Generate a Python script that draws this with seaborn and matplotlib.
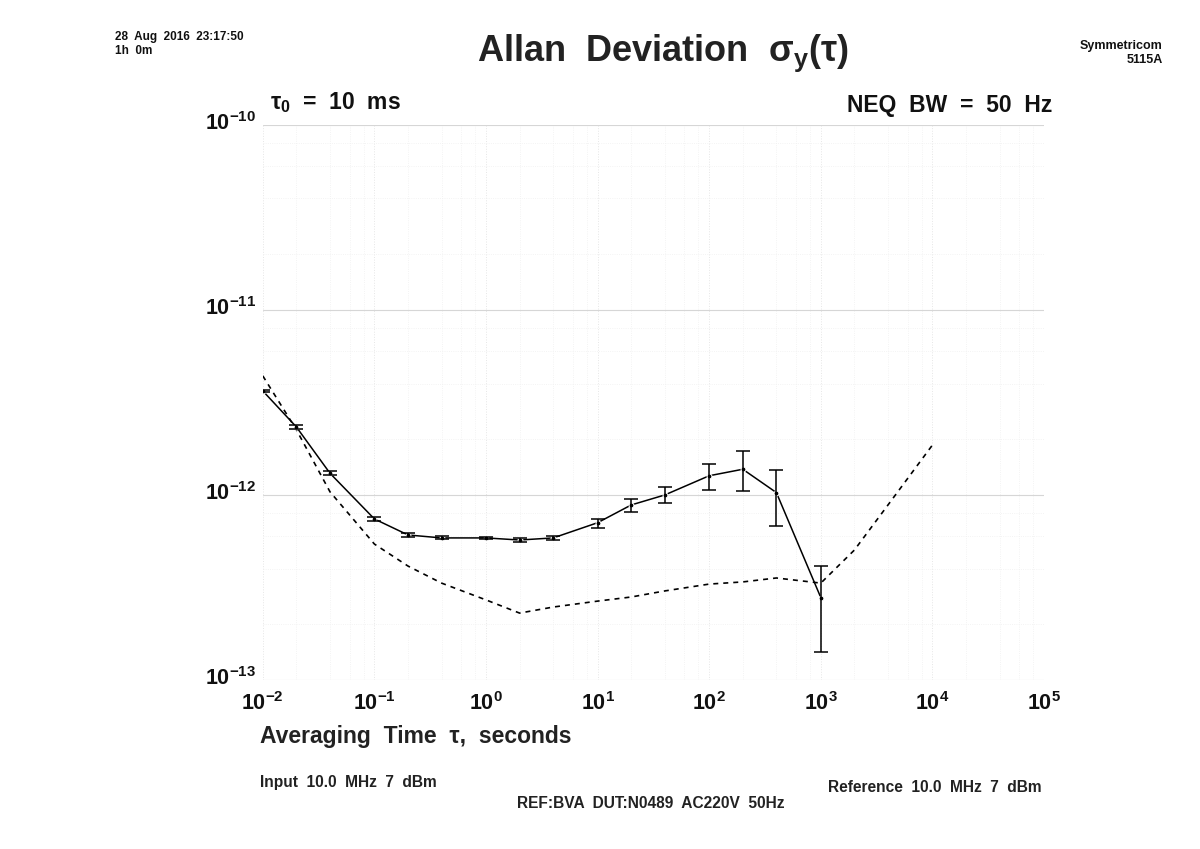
import numpy as np
import pandas as pd
import seaborn as sns
import matplotlib
matplotlib.use("Agg")
import matplotlib.pyplot as plt
import matplotlib.transforms as mtransforms
from matplotlib.ticker import LogLocator, FixedLocator, NullFormatter

# ---- data ----
tau = [0.01, 0.02, 0.04, 0.1, 0.2, 0.4, 1, 2, 4, 10, 20, 40, 100, 200, 400, 1000]
adev = [3.65e-12, 2.33e-12, 1.31e-12, 7.42e-13, 6.08e-13, 5.86e-13, 5.86e-13,
        5.71e-13, 5.86e-13, 7.08e-13, 8.83e-13, 1.0e-12, 1.27e-12, 1.377e-12,
        1.03e-12, 2.79e-13]
adev_lo = [3.60e-12, 2.27e-12, 1.28e-12, 7.22e-13, 5.94e-13, 5.75e-13, 5.76e-13,
           5.58e-13, 5.72e-13, 6.63e-13, 8.09e-13, 9.05e-13, 1.06e-12, 1.05e-12,
           6.8e-13, 1.42e-13]
adev_hi = [3.70e-12, 2.39e-12, 1.34e-12, 7.62e-13, 6.22e-13, 5.97e-13, 5.96e-13,
           5.84e-13, 6.00e-13, 7.42e-13, 9.55e-13, 1.105e-12, 1.476e-12, 1.73e-12,
           1.37e-12, 4.13e-13]

tau_ref = [0.01, 0.02, 0.04, 0.1, 0.2, 0.4, 1, 2, 4, 10, 20, 40, 100, 200, 400,
           1000, 2000, 4000, 10000]
ref_floor = [4.40e-12, 2.25e-12, 1.04e-12, 5.43e-13, 4.13e-13, 3.34e-13, 2.71e-13,
             2.30e-13, 2.48e-13, 2.67e-13, 2.81e-13, 3.03e-13, 3.30e-13, 3.39e-13,
             3.56e-13, 3.34e-13, 5.04e-13, 8.83e-13, 1.86e-12]

x_ticks = [1e-2, 1e-1, 1e0, 1e1, 1e2, 1e3, 1e4, 1e5]
x_ticklabels = [r"$\mathbf{10^{-2}}$", r"$\mathbf{10^{-1}}$", r"$\mathbf{10^{0}}$",
                r"$\mathbf{10^{1}}$", r"$\mathbf{10^{2}}$", r"$\mathbf{10^{3}}$",
                r"$\mathbf{10^{4}}$", r"$\mathbf{10^{5}}$"]
y_ticks = [1e-13, 1e-12, 1e-11, 1e-10]
y_ticklabels = [r"$\mathbf{10^{-13}}$", r"$\mathbf{10^{-12}}$",
                r"$\mathbf{10^{-11}}$", r"$\mathbf{10^{-10}}$"]

# ---- style ----
sns.set_style("white")
plt.rcParams["font.family"] = ["Liberation Sans", "DejaVu Sans"]
plt.rcParams["mathtext.fontset"] = "custom"
plt.rcParams["mathtext.rm"] = "Liberation Sans"
plt.rcParams["mathtext.it"] = "Liberation Sans:italic"
plt.rcParams["mathtext.bf"] = "Liberation Sans:bold"

fig = plt.figure(figsize=(12, 8.49), dpi=100)
ax = fig.add_axes([0.219, 0.199, 0.651, 0.654])

df_main = pd.DataFrame({"tau": tau, "adev": adev})
df_ref = pd.DataFrame({"tau": tau_ref, "adev": ref_floor})

sns.lineplot(data=df_ref, x="tau", y="adev", ax=ax, color="black",
             linestyle=(0, (3, 3)), linewidth=1.2, zorder=2)
sns.lineplot(data=df_main, x="tau", y="adev", ax=ax, color="black",
             linewidth=1.1, marker="o", markersize=3.5, zorder=3)
yerr = np.array([np.array(adev) - np.array(adev_lo), np.array(adev_hi) - np.array(adev)])
ax.errorbar(tau, adev, yerr=yerr, fmt="none", ecolor="black", elinewidth=1.1,
            capsize=5, capthick=1.1, zorder=3)

ax.set_xscale("log")
ax.set_yscale("log")
ax.set_xlim(1e-2, 1e5)
ax.set_ylim(1e-13, 1e-10)

ax.xaxis.set_major_locator(FixedLocator(x_ticks))
ax.set_xticklabels(x_ticklabels)
ax.yaxis.set_major_locator(FixedLocator(y_ticks))
ax.set_yticklabels(y_ticklabels)
ax.xaxis.set_minor_locator(LogLocator(base=10, subs=(2, 4, 6, 8), numticks=20))
ax.yaxis.set_minor_locator(LogLocator(base=10, subs=(2, 4, 6, 8), numticks=20))
ax.xaxis.set_minor_formatter(NullFormatter())
ax.yaxis.set_minor_formatter(NullFormatter())
ax.tick_params(axis="both", which="both", length=0)
ax.tick_params(axis="x", labelsize=15.5, pad=9, colors="#111111")
ax.tick_params(axis="y", labelsize=15.5, pad=5, colors="#111111")

# y tick labels sit slightly above their grid lines, as in the reference
offset = mtransforms.ScaledTranslation(0, 4 / 100, fig.dpi_scale_trans)
for lbl in ax.get_yticklabels():
    lbl.set_transform(lbl.get_transform() + offset)

ax.grid(True, which="major", axis="y", color="#d6d6d6", linewidth=0.8)
ax.grid(True, which="major", axis="x", color="#e6e6e6", linewidth=0.7, linestyle=":")
ax.grid(True, which="minor", color="#f0f0f0", linewidth=0.6, linestyle=":")
for s in ax.spines.values():
    s.set_visible(False)

ax.set_xlabel("")
ax.set_ylabel("")

# ---- texts ----
fig.text(0.2167, 0.132, "Averaging  Time  τ,  seconds", fontsize=16.5,
         fontweight="bold", color="#222222", ha="left", va="center")
fig.text(0.225, 0.879, r"τ$_\mathbf{0}$  =  10  ms", fontsize=16.5,
         fontweight="bold", color="#111111", ha="left", va="center")
fig.text(0.877, 0.876, "NEQ  BW  =  50  Hz", fontsize=16.5, fontweight="bold",
         color="#111111", ha="right", va="center")
fig.text(0.3975, 0.937, r"Allan  Deviation  σ$_\mathbf{y}$(τ)", fontsize=26,
         fontweight="bold", color="#222222", ha="left", va="center")
fig.text(0.096, 0.956, "28  Aug  2016  23:17:50", fontsize=8.5, fontweight="bold",
         color="#111111", ha="left", va="center")
fig.text(0.096, 0.940, "1h  0m", fontsize=8.5, fontweight="bold",
         color="#111111", ha="left", va="center")
fig.text(0.969, 0.946, "Symmetricom", fontsize=9, fontweight="bold",
         color="#111111", ha="right", va="center")
fig.text(0.969, 0.929, "5115A", fontsize=9, fontweight="bold",
         color="#111111", ha="right", va="center")
fig.text(0.2167, 0.078, "Input  10.0  MHz  7  dBm", fontsize=11.2, fontweight="bold",
         color="#222222", ha="left", va="center")
fig.text(0.868, 0.072, "Reference  10.0  MHz  7  dBm", fontsize=11.2,
         fontweight="bold", color="#222222", ha="right", va="center")
fig.text(0.542, 0.054, "REF:BVA  DUT:N0489  AC220V  50Hz", fontsize=11.2,
         fontweight="bold", color="#222222", ha="center", va="center")

fig.savefig("out.png", dpi=100)
